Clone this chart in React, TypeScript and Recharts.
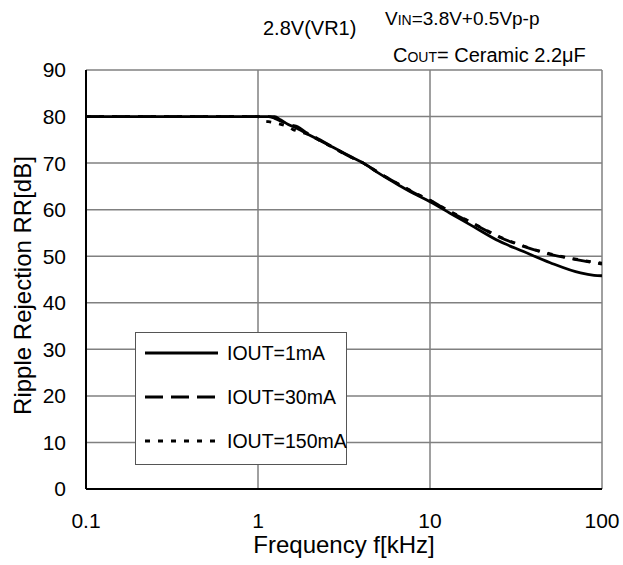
import React from 'react';
import { LineChart, Line, XAxis, YAxis, CartesianGrid, Legend } from 'recharts';

const FONT = '"Liberation Sans", Arial, sans-serif';

const xTicks = [0.1, 1, 10, 100];
const yTicks = [0, 10, 20, 30, 40, 50, 60, 70, 80, 90];

const freq1mA = [0.1, 1.25, 1.35, 1.5, 1.7, 2.0, 2.2, 2.6, 3.0, 3.5, 4.1, 5, 6.7, 8, 10, 13, 18, 25, 35, 50, 75, 90, 100];
const rr1mA = [80, 80, 79.3, 78.3, 77.4, 76, 75.2, 73.8, 72.6, 71.3, 70, 67.9, 65.1, 63.5, 61.7, 59.3, 56.3, 53.3, 51.0, 48.6, 46.4, 45.9, 45.8];

const freq30mA = [0.1, 1.15, 1.25, 1.4, 1.55, 1.7, 1.9, 2.1, 2.4, 2.8, 3.3, 4.1, 5, 6.7, 8, 10, 13, 18, 25, 35, 50, 75, 100];
const rr30mA = [80, 80, 79.6, 78.8, 78.2, 77.8, 76.6, 75.8, 74.6, 73.2, 71.7, 70, 68, 65.3, 63.7, 62, 59.6, 56.9, 54.2, 52.1, 50.4, 49.1, 48.3];

const freq150mA = [0.1, 1.0, 1.05, 1.15, 1.3, 1.45, 1.6, 1.8, 2.0, 2.3, 2.7, 3.2, 4.1, 5, 6.7, 8, 10, 13, 18, 25, 35, 50, 75, 100];
const rr150mA = [80, 80, 79.2, 78.9, 78.5, 78.0, 77.2, 76.6, 76.0, 74.8, 73.4, 71.9, 70, 68, 65.3, 63.8, 62, 59.7, 57, 54.3, 52.2, 50.5, 49.2, 48.5];

const seriesNames = ['IOUT=1mA', 'IOUT=30mA', 'IOUT=150mA'];
const seriesDash = ['', '18 8', '5 8'];

const toData = (f: number[], v: number[]) => f.map((x, i) => ({ f: x, rr: v[i] }));
const series = [
  toData(freq1mA, rr1mA),
  toData(freq30mA, rr30mA),
  toData(freq150mA, rr150mA),
];

const LegendBox = () => (
  <div
    style={{
      position: 'relative',
      width: 212,
      height: 133,
      border: '1px solid #555',
      background: '#fff',
      boxSizing: 'border-box',
      fontFamily: FONT,
      fontSize: 19.5,
      color: '#000',
    }}
  >
    {seriesNames.map((name, i) => (
      <div key={name} style={{ position: 'absolute', left: 0, top: 20 + i * 44, height: 0, width: 208 }}>
        <svg width={80} height={6} style={{ position: 'absolute', left: 9, top: -3 }}>
          <line x1={0} y1={3} x2={73} y2={3} stroke="#000" strokeWidth={3} strokeDasharray={seriesDash[i] || undefined} />
        </svg>
        <span style={{ position: 'absolute', left: 91, top: -13, whiteSpace: 'nowrap', lineHeight: '26px' }}>{name}</span>
      </div>
    ))}
  </div>
);

export default function App() {
  return (
    <div style={{ position: 'absolute', left: 0, top: 0, width: 623, height: 565, background: '#fff' }}>
      <LineChart width={623} height={565} margin={{ top: 70, right: 21, left: 0, bottom: 0 }}>
        <CartesianGrid stroke="#808080" strokeWidth={1.5} />
        <XAxis
          dataKey="f"
          type="number"
          scale="log"
          domain={[0.1, 100]}
          ticks={xTicks}
          allowDataOverflow
          height={76}
          tickLine={false}
          tickSize={6}
          tickMargin={18}
          axisLine={{ stroke: '#000', strokeWidth: 2 }}
          tick={{ fill: '#000', fontSize: 21, fontFamily: FONT }}
          label={{
            content: (p: any) => {
              const vb = p.viewBox || {};
              return (
                <text x={vb.x + vb.width / 2} y={vb.y + 64} textAnchor="middle" fill="#000" fontSize={24} fontFamily={FONT}>
                  Frequency f[kHz]
                </text>
              );
            },
          }}
        />
        <YAxis
          type="number"
          domain={[0, 90]}
          ticks={yTicks}
          width={86}
          tickLine={false}
          tickSize={6}
          tickMargin={14}
          axisLine={{ stroke: '#000', strokeWidth: 2 }}
          tick={{ fill: '#000', fontSize: 21, fontFamily: FONT }}
          label={{
            content: (p: any) => {
              const vb = p.viewBox || {};
              const x = vb.x + 22;
              const y = vb.y + vb.height / 2 + 6;
              return (
                <text x={x} y={y} transform={`rotate(-90 ${x} ${y})`} textAnchor="middle" dominantBaseline="central" fill="#000" fontSize={24} fontFamily={FONT}>
                  Ripple Rejection RR[dB]
                </text>
              );
            },
          }}
        />
        <Legend
          layout="vertical"
          align="center"
          verticalAlign="middle"
          wrapperStyle={{ left: 135, top: 332, width: 212, height: 133 }}
          content={() => <LegendBox />}
        />
        {series.map((d, i) => (
          <Line
            key={seriesNames[i]}
            data={d}
            dataKey="rr"
            name={seriesNames[i]}
            type="monotone"
            stroke="#000"
            strokeWidth={2.8}
            strokeDasharray={seriesDash[i] || undefined}
            dot={false}
            activeDot={false}
            isAnimationActive={false}
          />
        ))}
      </LineChart>
      <svg width={623} height={75} style={{ position: 'absolute', left: 0, top: 0, pointerEvents: 'none' }}>
        <text x={263} y={35} fontSize={20} fontFamily={FONT} fill="#000">2.8V(VR1)</text>
        <text x={385} y={25} fontSize={19} fontFamily={FONT} fill="#000">
          V<tspan fontSize={14}>IN</tspan>=3.8V+0.5Vp-p
        </text>
        <text x={393} y={62} fontSize={20} fontFamily={FONT} fill="#000">
          C<tspan fontSize={14}>OUT</tspan>= Ceramic 2.2μF
        </text>
      </svg>
    </div>
  );
}
